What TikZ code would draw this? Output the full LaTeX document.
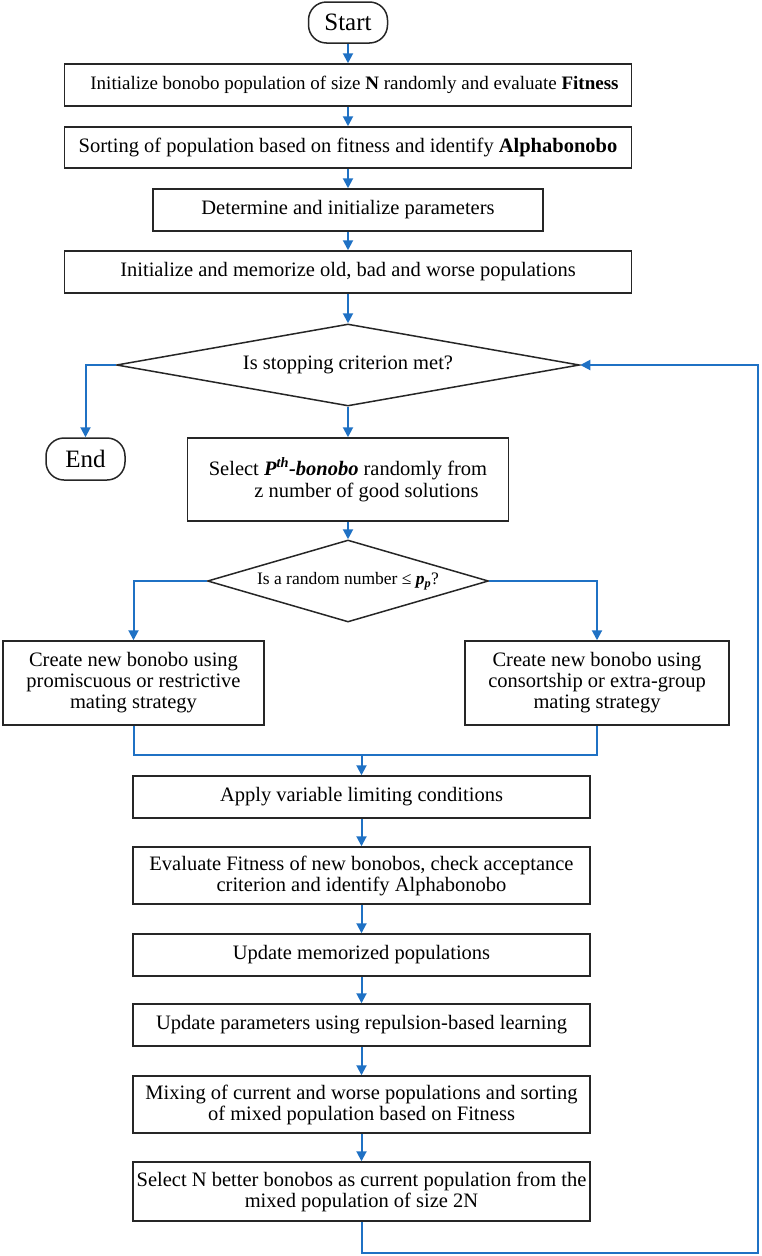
\documentclass[tikz,border=0pt]{standalone}
\usepackage{fontspec}
\setmainfont{Liberation Serif}
\usetikzlibrary{shapes.geometric,arrows.meta}
\definecolor{flowblue}{RGB}{31,113,196}
\begin{document}
\begin{tikzpicture}[x=1pt,y=-1pt,
  box/.style={draw=black!85, line width=1.5pt, rectangle, inner sep=0pt, align=center,
    font=\fontsize{20.5}{21}\selectfont, minimum width=#1},
  term/.style={draw=black!85, line width=1.5pt, rectangle, rounded corners=18pt, inner sep=0pt,
    minimum width=79pt, minimum height=41pt, font=\fontsize{25}{26}\selectfont},
  decision/.style={draw=black!85, line width=1.5pt, diamond, inner sep=0pt, align=center},
  conn/.style={draw=flowblue, line width=2pt},
  arr/.style={conn, -{Triangle[length=10pt,width=10pt]}}
]
\useasboundingbox (0,0) rectangle (761,1256);

\node[term] (start) at (348,22.5) {Start};
\node[box=567pt, minimum height=42pt, font=\fontsize{19}{20}\selectfont] (b1) at (348,85)
  {\hspace*{13pt}Initialize bonobo population of size \textbf{N} randomly and evaluate \textbf{Fitness}};
\node[box=567pt, minimum height=41pt] (b2) at (348,147.5)
  {Sorting of population based on fitness and identify \textbf{Alphabonobo}};
\node[box=390pt, minimum height=42pt] (b3) at (348,210)
  {Determine and initialize parameters};
\node[box=567pt, minimum height=42pt] (b4) at (348,272)
  {Initialize and memorize old, bad and worse populations};
\node[decision, aspect=5.65, minimum width=463pt, minimum height=82pt, font=\fontsize{20.5}{21}\selectfont] (d1) at (348,365)
  {Is stopping criterion met?};
\node[term, minimum height=42pt] (end) at (85.5,459) {End};
\node[box=321pt, minimum height=83pt, font=\fontsize{20.5}{22}\selectfont] (b5) at (348,479.5)
  {Select {\bfseries\itshape P\textsuperscript{th}-bonobo} randomly from\\\hspace*{37pt}z number of good solutions};
\node[decision, aspect=3.43, minimum width=281pt, minimum height=82pt, font=\fontsize{17.5}{18}\selectfont] (d2) at (348,581)
  {Is a random number ≤ {\bfseries\itshape p\textsubscript{p}}?};
\node[box=261pt, minimum height=84pt] (b6) at (133.5,683)
  {Create new bonobo using\\promiscuous or restrictive\\mating strategy};
\node[box=264pt, minimum height=84pt] (b7) at (597,683)
  {Create new bonobo using\\consortship or extra-group\\mating strategy};
\node[box=457pt, minimum height=42pt] (b8) at (361.5,797)
  {Apply variable limiting conditions};
\node[box=457pt, minimum height=57pt] (b9) at (361.5,875.5)
  {Evaluate Fitness of new bonobos, check acceptance\\criterion and identify Alphabonobo};
\node[box=457pt, minimum height=42pt] (b10) at (361.5,955)
  {Update memorized populations};
\node[box=457pt, minimum height=42pt] (b11) at (361.5,1025)
  {Update parameters using repulsion-based learning};
\node[box=457pt, minimum height=57pt] (b12) at (361.5,1104.5)
  {Mixing of current and worse populations and sorting\\of mixed population based on Fitness};
\node[box=457pt, minimum height=59pt] (b13) at (361.5,1191.5)
  {Select N better bonobos as current population from the\\mixed population of size 2N};

\coordinate (m) at (361.5,755);
\coordinate (fb) at (758,1253);

\draw[arr] (start) -- (b1);
\draw[arr] (b1) -- (b2);
\draw[arr] (b2) -- (b3);
\draw[arr] (b3) -- (b4);
\draw[arr] (b4) -- (d1.north);
\draw[arr] (d1.west) -| (end.north);
\draw[arr] (d1.south) -- (b5.north);
\draw[arr] (b5.south) -- (d2.north);
\draw[arr] (d2.west) -| (b6.north);
\draw[arr] (d2.east) -| (b7.north);
\draw[conn] (b6.south) |- (m) -| (b7.south);
\draw[arr] (m) -- (b8.north);
\draw[arr] (b8) -- (b9);
\draw[arr] (b9) -- (b10);
\draw[arr] (b10) -- (b11);
\draw[arr] (b11) -- (b12);
\draw[arr] (b12) -- (b13);
\draw[arr] (b13.south) |- (fb) |- (d1.east);
\end{tikzpicture}
\end{document}
